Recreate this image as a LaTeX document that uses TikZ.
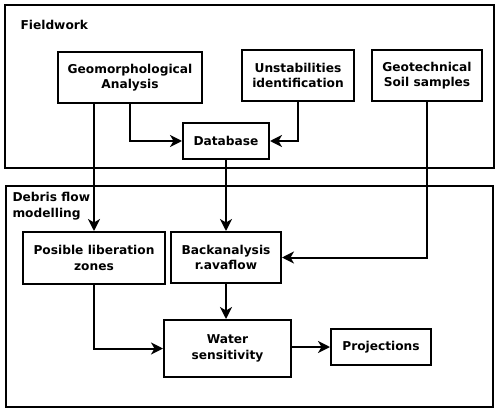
\documentclass[tikz,border=0pt]{standalone}
\usepackage{fontspec}
\setmainfont{DejaVu Sans}
\usetikzlibrary{arrows.meta}
\begin{document}
\begin{tikzpicture}[x=1pt,y=-1pt,
  every node/.style={font=\fontsize{12.2}{15.5}\selectfont\bfseries},
  box/.style={draw, line width=2pt, align=center, inner sep=0pt},
  frame/.style={draw, line width=2pt},
  arr/.style={line width=2pt, -{Stealth[length=12pt,width=12pt,inset=3.5pt]}}]
\useasboundingbox (0,0) rectangle (500,414);
\draw[frame] (5,5) rectangle (494,168);
\draw[frame] (6,186) rectangle (493,407);
\node[anchor=west] (lf) at (17,25) {Fieldwork};
\node[anchor=north west, align=left] (ld) at (9,189) {Debris flow\\modelling};
\node[box, minimum width=144pt, minimum height=51pt] (geo) at (130,77.5) {Geomorphological\\Analysis};
\node[box, minimum width=112pt, minimum height=51pt] (uns) at (298,75.5) {Unstabilities\\identification};
\node[box, minimum width=110pt, minimum height=51pt] (soil) at (427,75.5) {Geotechnical\\Soil samples};
\node[box, minimum width=86pt, minimum height=36pt] (db) at (226,141) {Database};
\node[box, minimum width=142pt, minimum height=52pt] (pos) at (94,258) {Posible liberation\\zones};
\node[box, minimum width=110pt, minimum height=51pt] (back) at (226,257.5) {Backanalysis\\r.avaflow};
\node[box, minimum width=127pt, minimum height=57pt] (water) at (227.5,348.5) {Water\\sensitivity};
\node[box, minimum width=100pt, minimum height=36pt] (proj) at (381,347) {Projections};
\draw[arr] (geo.south -| pos.north) -- (pos.north);
\draw[arr] (geo.south) |- (db.west);
\draw[arr] (uns.south) |- (db.east);
\draw[arr] (db.south) -- (back.north);
\draw[arr] (soil.south) |- (back.east);
\draw[arr] (pos.south) |- (water.west);
\draw[arr] (back.south) -- (back.south |- water.north);
\draw[arr] (water.east |- proj.west) -- (proj.west);
\end{tikzpicture}
\end{document}
